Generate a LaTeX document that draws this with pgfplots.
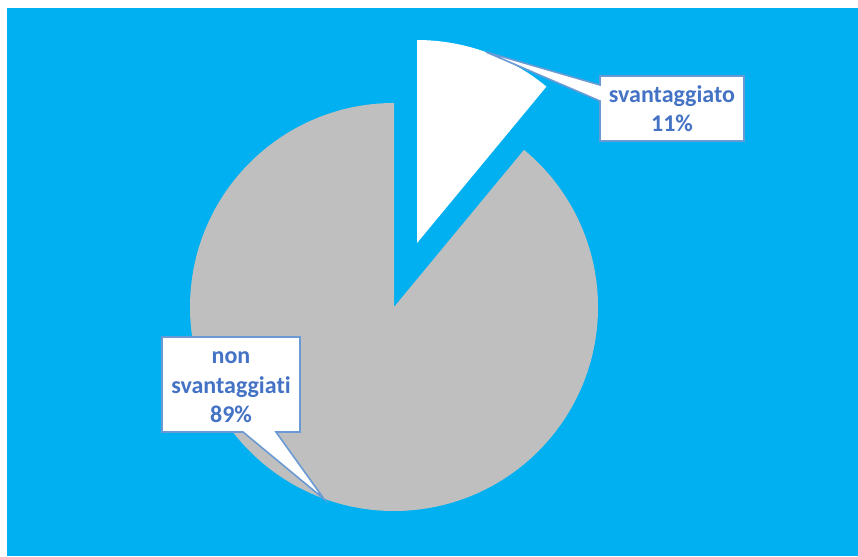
\documentclass[border=0pt]{standalone}
\usepackage{pgfplots}
\usepackage{pgfplotstable}
\pgfplotsset{compat=1.18}
\usepackage{fontspec}
\setmainfont{Carlito}[Ligatures={NoCommon}]
\definecolor{bgblue}{HTML}{00B0F0}
\definecolor{slicegray}{HTML}{BFBFBF}
\definecolor{txtblue}{HTML}{4472C4}
\definecolor{boxline}{HTML}{6A9AD4}
\pgfplotstableread{
label value
nonsvantaggiati 89
svantaggiato 11
}\piedata
\pgfplotstablegetelem{0}{value}\of\piedata
\pgfmathsetmacro{\va}{\pgfplotsretval}
\pgfplotstablegetelem{1}{value}\of\piedata
\pgfmathsetmacro{\vb}{\pgfplotsretval}
\pgfmathsetmacro{\aend}{90+\va/(\va+\vb)*360}
\pgfmathsetmacro{\bstart}{\aend-360}
\pgfmathsetmacro{\bmid}{(\bstart+90)/2}
\begin{document}
\begin{tikzpicture}
\begin{axis}[
  x=1pt, y=1pt, y dir=reverse,
  xmin=0, xmax=858, ymin=0, ymax=556,
  hide axis, clip=false,
]
\fill[white] (axis cs:0,0) rectangle (axis cs:858,556);
\fill[bgblue] (axis cs:7,8) rectangle (axis cs:858,556);
% slices
\fill[slicegray] (axis cs:394,307) -- ++(90:204pt) arc[start angle=90, end angle=\aend, radius=204pt] -- cycle;
\fill[white] (axis cs:394,307) ++(\bmid:68pt) -- ++(\bstart:203pt) arc[start angle=\bstart, end angle=90, radius=203pt] -- cycle;
% callouts
\filldraw[fill=white, draw=boxline, line width=1.6pt, line join=miter]
  (axis cs:600,76) -- (axis cs:744,76) -- (axis cs:744,141) -- (axis cs:600,141)
  -- (axis cs:600,101) -- (axis cs:486,52) -- (axis cs:600,85) -- cycle;
\filldraw[fill=white, draw=boxline, line width=1.6pt, line join=miter]
  (axis cs:162,337) -- (axis cs:300,337) -- (axis cs:300,432) -- (axis cs:276,432)
  -- (axis cs:324,499) -- (axis cs:243,432) -- (axis cs:162,432) -- cycle;
\node[anchor=base, text=txtblue, font=\fontsize{24}{29}\selectfont\bfseries, inner sep=0pt] at (axis cs:672,103) {svantaggiato};
\node[anchor=base, text=txtblue, font=\fontsize{24}{29}\selectfont\bfseries, inner sep=0pt] at (axis cs:672,132) {11\%};
\node[anchor=base, text=txtblue, font=\fontsize{24}{29}\selectfont\bfseries, inner sep=0pt] at (axis cs:231,363) {non};
\node[anchor=base, text=txtblue, font=\fontsize{24}{29}\selectfont\bfseries, inner sep=0pt] at (axis cs:231,393) {svantaggiati};
\node[anchor=base, text=txtblue, font=\fontsize{24}{29}\selectfont\bfseries, inner sep=0pt] at (axis cs:231,422) {89\%};
\end{axis}
\end{tikzpicture}
\end{document}
